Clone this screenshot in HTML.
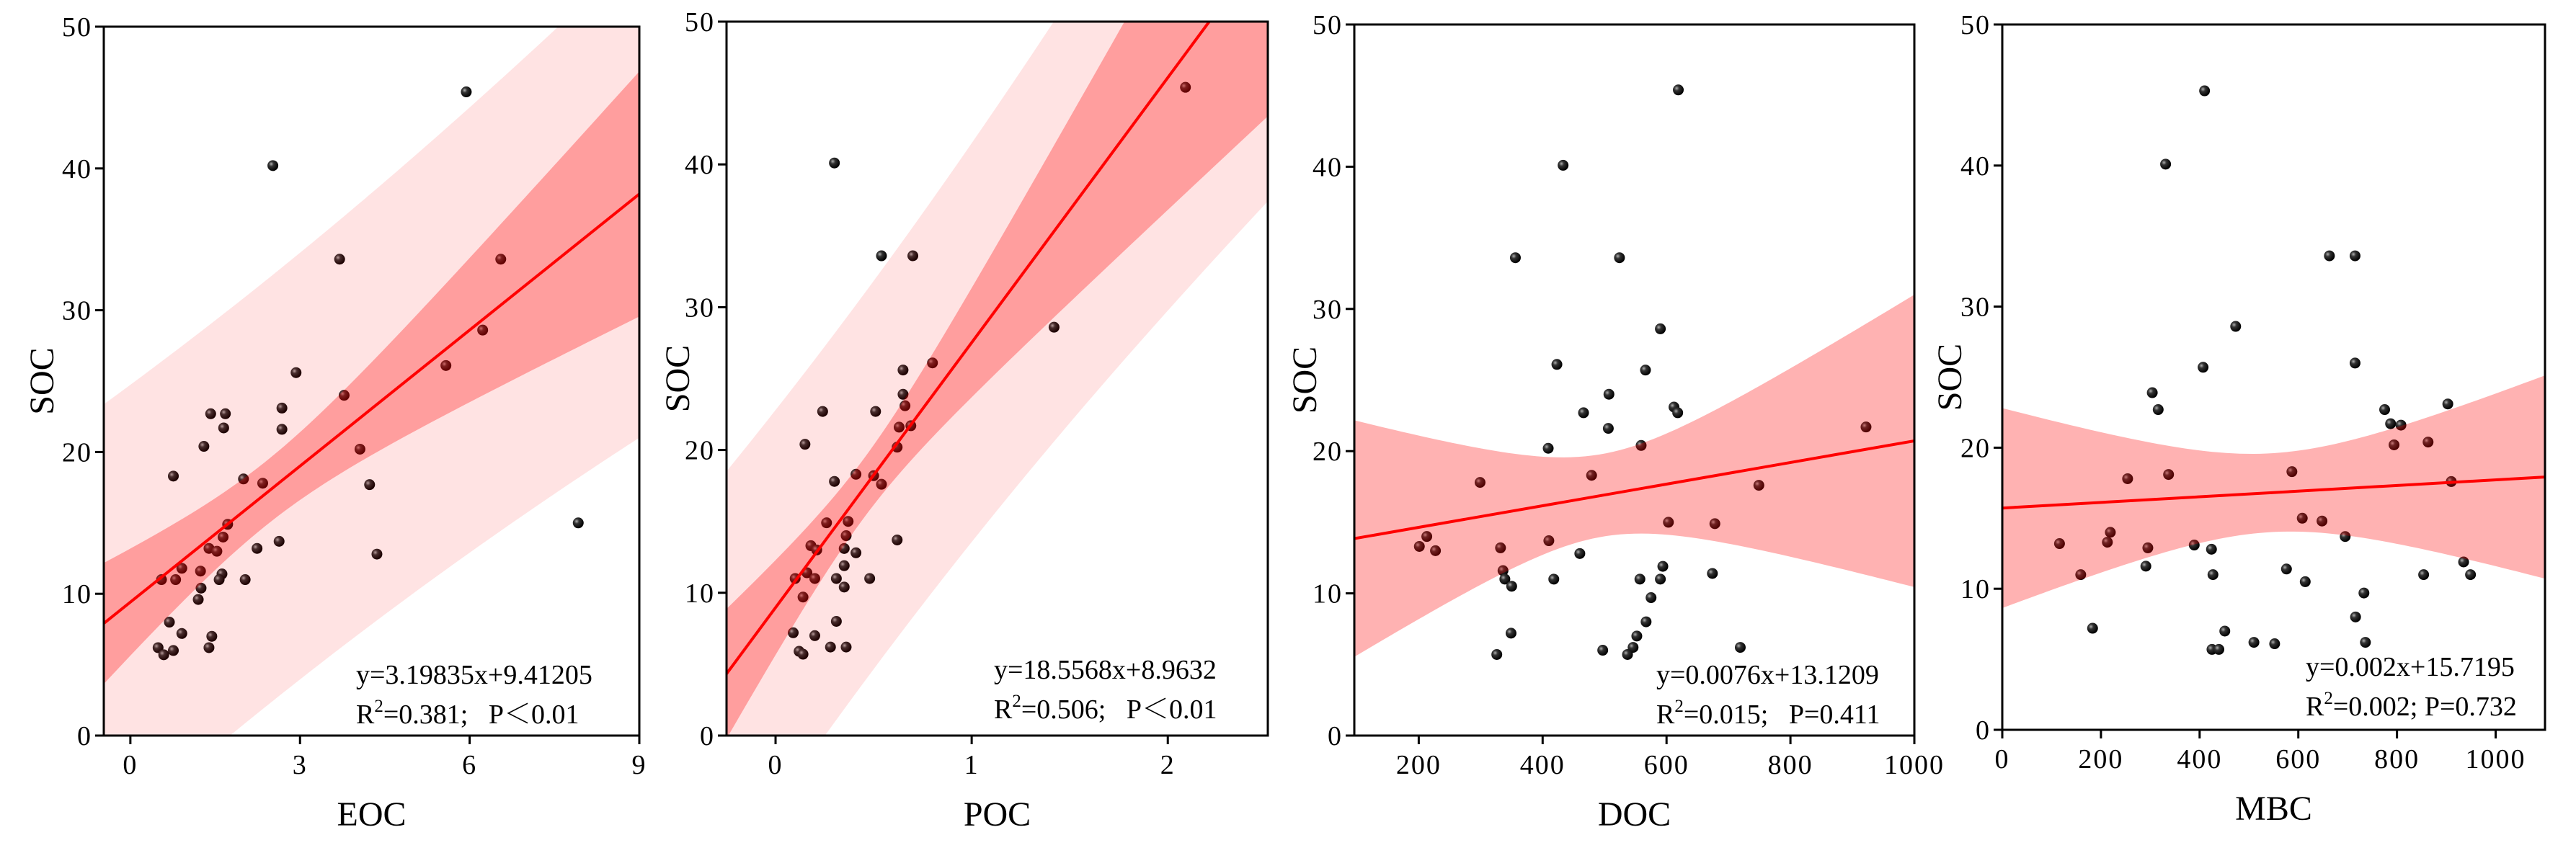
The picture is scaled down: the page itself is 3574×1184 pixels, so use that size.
<!DOCTYPE html>
<html><head><meta charset="utf-8"><style>
html,body{margin:0;padding:0;background:#fff;}
svg{display:block;}
text{font-family:"Liberation Serif","Noto Serif CJK SC",serif;fill:#000;}
</style></head><body>
<svg id="chart" width="3574" height="1184" viewBox="0 0 3574 1184" xmlns="http://www.w3.org/2000/svg">
<defs>
<radialGradient id="ball" cx="35%" cy="35%" r="65%">
<stop offset="0" stop-color="#b0b0b0"/><stop offset="0.35" stop-color="#333"/><stop offset="1" stop-color="#000"/>
</radialGradient>
</defs>
</svg>
<script>
const SOC_EOC = [45.4,40.2,33.6,33.6,28.6,26.1,25.6,24.0,23.1,22.7,22.7,21.7,21.6,20.4,20.2,18.3,18.1,17.8,17.7,14.9,15.0,14.0,13.2,13.0,13.2,13.7,12.8,11.8,11.6,11.4,11.0,11.0,11.0,11.0,10.4,9.6,8.0,7.2,7.0,6.2,6.2,6.0,5.7];
const EOC = [5.94,2.52,3.70,6.55,6.23,5.58,2.93,3.78,2.68,1.42,1.68,1.65,2.68,1.30,4.06,0.76,2.0,2.34,4.23,1.72,7.92,1.64,1.39,1.53,2.24,2.63,4.36,0.91,1.24,1.62,0.55,0.80,1.57,2.03,1.25,1.20,0.69,0.91,1.44,0.49,1.39,0.76,0.59];
const SOC_POC = [45.4,40.1,33.6,33.6,28.6,26.1,25.6,23.9,23.1,22.7,22.7,21.6,21.7,20.4,20.2,18.3,18.2,17.8,17.6,14.9,15.0,14.0,13.3,13.0,13.1,12.8,13.7,11.9,11.0,11.4,11.0,11.0,11.0,10.4,9.7,8.0,7.2,7.0,6.2,6.2,5.9,5.7];
const POC = [2.09,0.30,0.54,0.70,1.42,0.80,0.65,0.65,0.66,0.24,0.51,0.63,0.69,0.15,0.62,0.41,0.50,0.30,0.54,0.26,0.37,0.36,0.18,0.21,0.35,0.41,0.62,0.35,0.10,0.16,0.20,0.31,0.48,0.35,0.14,0.31,0.09,0.20,0.28,0.36,0.12,0.14];
const SOC_DOC = [45.4,40.1,33.6,33.6,28.6,26.1,25.7,24.0,23.1,22.7,22.7,21.6,21.7,20.2,20.4,18.3,17.8,17.6,15.0,14.9,14.0,13.7,13.3,13.2,13.0,12.8,11.9,11.6,11.4,11.0,11.0,11.0,11.0,10.5,9.7,8.0,7.2,7.0,6.2,6.2,6.0,5.7,5.7];
const DOC = [619,433,356,524,590,423,566,507,612,618,466,506,922,409,559,479,299,749,603,678,213,410,201,332,227,460,594,336,674,339,418,557,590,350,575,567,349,552,546,719,497,326,537];
const SOC_MBC = [45.3,40.1,33.6,33.6,28.6,25.7,26.0,23.9,22.7,23.1,22.7,21.7,21.6,20.2,20.4,18.3,18.1,17.8,17.6,15.0,14.8,14.0,13.7,13.2,13.3,13.1,12.9,12.8,11.9,11.6,11.4,11.0,11.0,11.0,11.0,10.5,9.7,8.0,7.2,7.0,6.2,6.1,6.2,5.7,5.7];
const MBC = [410,331,663,715,473,407,715,304,316,903,775,787,808,794,863,587,337,254,910,608,648,219,695,116,213,389,295,424,935,291,576,159,427,854,949,614,733,716,183,451,510,552,736,425,439];
const SLOPES = [3.19835,18.5568,0.0076,0.002];
const INTERCEPTS = [9.41205,8.9632,13.1209,15.7195];
const EQ_LINES = ["y=3.19835x+9.41205","y=18.5568x+8.9632","y=0.0076x+13.1209","y=0.002x+15.7195"];
const STAT_R2 = ["0.381;\u00A0\u00A0 ","0.506;\u00A0\u00A0 ","0.015;\u00A0\u00A0 ","0.002; "];
const STAT_P = ["P\uFF1C0.01","P\uFF1C0.01","P=0.411","P=0.732"];
const X_TITLES = ["EOC","POC","DOC","MBC"];
const X_TICKS = [[0,3,6,9],[0,1,2],[200,400,600,800,1000],[0,200,400,600,800,1000]];
const Y_TICKS = [0,10,20,30,40,50];

const NS="http://www.w3.org/2000/svg";
const svg=document.getElementById('chart');
function mk(tag,attrs,parent){const e=document.createElementNS(NS,tag);for(const k in attrs)e.setAttribute(k,attrs[k]);(parent||svg).appendChild(e);return e;}

const panels=[
 {xs:EOC,ys:SOC_EOC,L:144,R:887,T:37,B:1021,xmin:-0.47,xmax:9,pred:true,eqX:494,eqY:949,ylab:58},
 {xs:POC,ys:SOC_POC,L:1008,R:1759,T:30,B:1021,xmin:-0.25,xmax:2.51,pred:true,eqX:1379,eqY:942,ylab:940},
 {xs:DOC,ys:SOC_DOC,L:1879,R:2656,T:34,B:1021,xmin:96,xmax:1000,pred:false,eqX:2298,eqY:949,ylab:1810},
 {xs:MBC,ys:SOC_MBC,L:2778,R:3531,T:34,B:1013,xmin:0,xmax:1100,pred:false,eqX:3199,eqY:938,ylab:2705}
];

panels.forEach((p,i)=>{
 const g=mk('g',{});
 
 
 const sx=v=>p.L+(v-p.xmin)/(p.xmax-p.xmin)*(p.R-p.L);
 const sy=v=>p.B-v/50*(p.B-p.T);
 const cid='clip'+i;
 const cp=mk('clipPath',{id:cid},g);mk('rect',{x:p.L,y:p.T,width:p.R-p.L,height:p.B-p.T},cp);
 const n=p.xs.length,a=INTERCEPTS[i],b=SLOPES[i];
 const mx=p.xs.reduce((s,v)=>s+v,0)/n;
 const sxx=p.xs.reduce((s,v)=>s+(v-mx)*(v-mx),0);
 let sse=0;p.xs.forEach((v,k)=>{const r=p.ys[k]-(a+b*v);sse+=r*r;});
 const s=Math.sqrt(sse/(n-2)),t=2.02;
 p.xs.forEach((v,k)=>{
  const c=mk('circle',{cx:sx(v),cy:sy(p.ys[k]),r:7.5,fill:'url(#ball)'},g);
  
  
 });
 function band(pred,fill,name){
  const N=80,up=[],lo=[];
  for(let j=0;j<=N;j++){const x=p.xmin+(p.xmax-p.xmin)*j/N;const yh=a+b*x;
   const se=s*Math.sqrt((pred?1:0)+1/n+(x-mx)*(x-mx)/sxx);
   up.push(sx(x)+','+sy(yh+t*se));lo.unshift(sx(x)+','+sy(yh-t*se));}
  const e=mk('polygon',{points:up.concat(lo).join(' '),fill:fill,'clip-path':'url(#'+cid+')'},g);
  
  
 }
 if(p.pred) band(true,'rgba(255,0,0,0.11)','prediction-band');
 band(false,'rgba(255,0,0,0.30)','confidence-band');
 const ln=mk('line',{x1:sx(p.xmin),y1:sy(a+b*p.xmin),x2:sx(p.xmax),y2:sy(a+b*p.xmax),stroke:'#ff0000','stroke-width':4,'clip-path':'url(#'+cid+')'},g);
 
 
 const fr=mk('rect',{x:p.L,y:p.T,width:p.R-p.L,height:p.B-p.T,fill:'none',stroke:'#000','stroke-width':3},g);
 
 
 Y_TICKS.forEach(v=>{
  mk('line',{x1:p.L-12,x2:p.L,y1:sy(v),y2:sy(v),stroke:'#000','stroke-width':3},g);
  const tx=mk('text',{x:p.L-16,y:sy(v)+13,'text-anchor':'end','font-size':38,'letter-spacing':2},g);
  tx.textContent=v;
  
  
 });
 X_TICKS[i].forEach(v=>{
  mk('line',{x1:sx(v),x2:sx(v),y1:p.B,y2:p.B+12,stroke:'#000','stroke-width':3},g);
  const tx=mk('text',{x:sx(v),y:p.B+53,'text-anchor':'middle','font-size':38,'letter-spacing':2},g);
  tx.textContent=v;
  
  
 });
 const xt=mk('text',{x:(p.L+p.R)/2,y:p.B+125,'text-anchor':'middle','font-size':48},g);
 xt.textContent=X_TITLES[i];
 
 
 const yt=mk('text',{x:0,y:0,'text-anchor':'middle','font-size':48,transform:'translate('+(p.ylab+16)+','+((p.T+p.B)/2)+') rotate(-90)'},g);
 yt.textContent='SOC';
 
 
 const e1=mk('text',{x:p.eqX,y:p.eqY,'font-size':38},g);
 e1.textContent=EQ_LINES[i];
 
 
 const e2=mk('text',{x:p.eqX,y:p.eqY+55,'font-size':38},g);
 e2.innerHTML='R<tspan font-size="25" dy="-16">2</tspan><tspan dy="16">='+STAT_R2[i]+STAT_P[i]+'</tspan>';
 
 
});
</script>
</body></html>
